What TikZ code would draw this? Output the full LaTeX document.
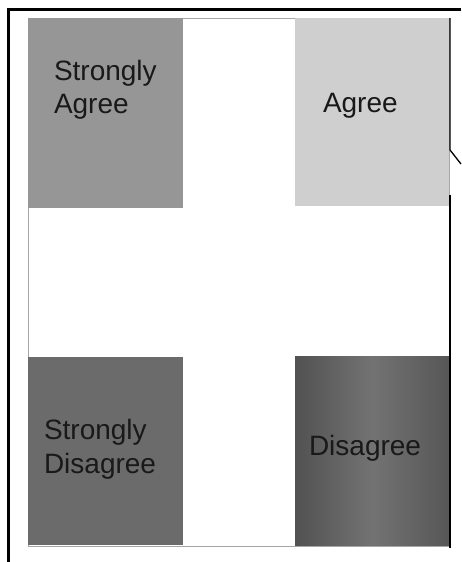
\documentclass[tikz,border=0pt]{standalone}
\usepackage{fontspec}
\setmainfont{Liberation Sans}
\begin{document}
\begin{tikzpicture}[x=1pt,y=-1pt,
  quad/.style={rectangle, inner sep=0pt, outer sep=0pt, draw=none},
  lbl/.style={inner sep=0pt, outer sep=0pt, anchor=base west, text=black!90,
    font=\fontsize{28}{33}\selectfont, align=left},
  frame/.style={line width=3pt, black},
  thin/.style={line width=1.3pt, black}]
\useasboundingbox (0,0) rectangle (461,562);
\fill[white] (0,0) rectangle (461,562);
% inner white area border
\draw[gray!70, line width=0.8pt] (28.5,18.5) rectangle (449.5,546);
% boxes
\node[quad, fill=gray!82!white, minimum width=155pt, minimum height=190pt] (sa) at (105.5,113) {};
\node[quad, fill=gray!38!white, minimum width=154pt, minimum height=188pt] (ag) at (372,112) {};
\node[quad, fill=black!58, minimum width=155pt, minimum height=188pt] (sd) at (105.5,451) {};
\shade[left color=black!68, right color=black!66, middle color=black!55]
  (295,356) rectangle (449,545);
\node[quad, minimum width=154pt, minimum height=189pt] (di) at (372,450.5) {};
% labels
\node[lbl] (tsa1) at (54,80) {Strongly};
\node[lbl] (tsa2) at (54,113) {Agree};
\node[lbl] (tag) at (323,112) {Agree};
\node[lbl] (tsd1) at (44,439) {Strongly};
\node[lbl] (tsd2) at (44,473) {Disagree};
\node[lbl] (tdi) at (309,455) {Disagree};
% outer frame
\coordinate (tl) at (8.5,9.5);
\coordinate (tr) at (461,9.5);
\coordinate (bl) at (8.5,562);
\draw[frame] (tr) -- (tl) -- (bl);
% right line with notch
\coordinate (r1) at (450,18);
\coordinate (r2) at (450,150);
\coordinate (r3) at (461,164);
\coordinate (r4) at (450,195);
\coordinate (r5) at (450,548);
\draw[thin] (r1) -- (r2) -- (r3);
\draw[thin] (r4) -- (r5);
\end{tikzpicture}
\end{document}
